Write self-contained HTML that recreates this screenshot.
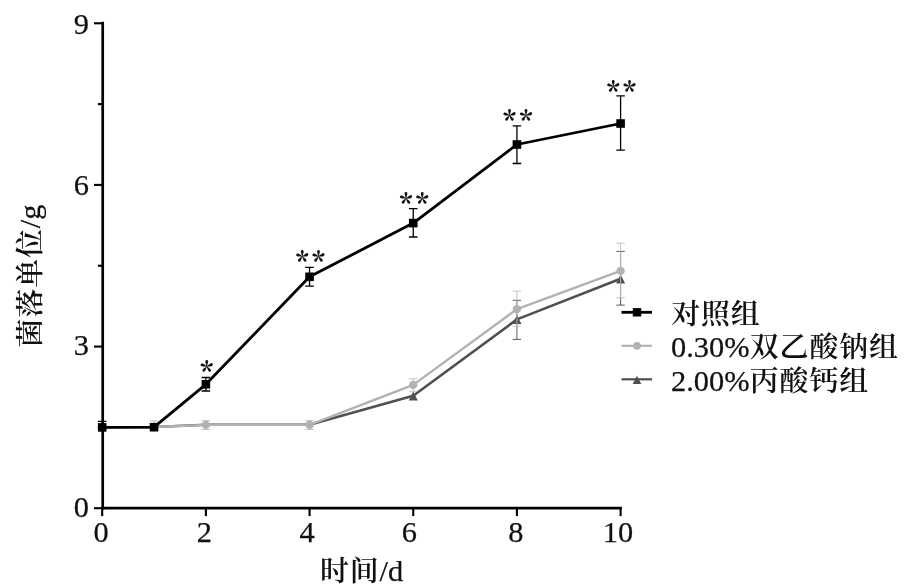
<!DOCTYPE html>
<html lang="zh-CN"><head><meta charset="utf-8"><title>菌落单位</title>
<style>html,body{margin:0;padding:0;background:#fff;}
.l{font-size:30.4px;font-weight:400;stroke:#111;stroke-width:0.25px;letter-spacing:0}
.c{font-size:28.9px;font-weight:600;letter-spacing:0.9px}
.s{font-family:"Noto Serif CJK SC",serif;font-size:26.5px;font-weight:900;letter-spacing:3.4px}
body{width:908px;height:588px;overflow:hidden;font-family:"Liberation Serif","Noto Serif CJK SC",serif;}svg{display:block;filter:blur(0.35px)}</style>
</head><body>
<svg width="908" height="588" viewBox="0 0 908 588" font-family="'Liberation Serif','Noto Serif CJK SC',serif" fill="#111">
<rect width="908" height="588" fill="#fff"/>
<g>
<path d="M516.92 300.3V339.4M512.7199999999999 300.3H521.12M512.7199999999999 339.4H521.12" stroke="#4a4a4a" stroke-width="0.9" fill="none"/>
<path d="M620.6 251.4V305.1M616.4 251.4H624.8000000000001M616.4 305.1H624.8000000000001" stroke="#4a4a4a" stroke-width="0.9" fill="none"/>
<polyline points="102.2,427.2 154.04,427.0 205.88,424.7 309.56,424.7 413.24,395.8 516.92,319.4 620.6,278.8" fill="none" stroke="#505050" stroke-width="2.6" stroke-linejoin="round"/>
<path d="M413.24 391.48L417.74 400.48H408.74Z" fill="#505050"/>
<path d="M516.92 315.08L521.42 324.08H512.42Z" fill="#505050"/>
<path d="M620.6 274.48L625.10 283.48H616.10Z" fill="#505050"/>
<path d="M154.04 420.9V427M149.84 420.9H158.23999999999998M149.84 427H158.23999999999998" stroke="#bcbcbc" stroke-width="0.9" fill="none"/>
<path d="M205.88 420.6V429.5M201.68 420.6H210.07999999999998M201.68 429.5H210.07999999999998" stroke="#bcbcbc" stroke-width="0.9" fill="none"/>
<path d="M309.56 420.6V429.5M305.36 420.6H313.76M305.36 429.5H313.76" stroke="#bcbcbc" stroke-width="0.9" fill="none"/>
<path d="M413.24 378.7V391.3M409.04 378.7H417.44M409.04 391.3H417.44" stroke="#bcbcbc" stroke-width="0.9" fill="none"/>
<path d="M516.92 291.2V326.1M512.7199999999999 291.2H521.12M512.7199999999999 326.1H521.12" stroke="#bcbcbc" stroke-width="0.9" fill="none"/>
<path d="M620.6 243.2V297.8M616.4 243.2H624.8000000000001M616.4 297.8H624.8000000000001" stroke="#bcbcbc" stroke-width="0.9" fill="none"/>
<polyline points="102.2,427.2 154.04,427.0 205.88,424.9 309.56,424.9 413.24,384.9 516.92,309.1 620.6,270.9" fill="none" stroke="#b2b2b2" stroke-width="2.4" stroke-linejoin="round"/>
<circle cx="154.04" cy="427.0" r="4.2" fill="#b2b2b2"/>
<circle cx="205.88" cy="424.9" r="4.2" fill="#b2b2b2"/>
<circle cx="309.56" cy="424.9" r="4.2" fill="#b2b2b2"/>
<circle cx="413.24" cy="384.9" r="4.2" fill="#b2b2b2"/>
<circle cx="516.92" cy="309.1" r="4.2" fill="#b2b2b2"/>
<circle cx="620.6" cy="270.9" r="4.2" fill="#b2b2b2"/>
<path d="M102.2 421.3V427.4M97.9 421.3H106.5M97.9 427.4H106.5" stroke="#000" stroke-width="1.3" fill="none"/>
<path d="M205.88 377.5V391M201.57999999999998 377.5H210.18M201.57999999999998 391H210.18" stroke="#000" stroke-width="1.3" fill="none"/>
<path d="M309.56 267.3V286.1M305.26 267.3H313.86M305.26 286.1H313.86" stroke="#000" stroke-width="1.3" fill="none"/>
<path d="M413.24 208.7V237M408.94 208.7H417.54M408.94 237H417.54" stroke="#000" stroke-width="1.3" fill="none"/>
<path d="M516.92 125.9V163.5M512.62 125.9H521.2199999999999M512.62 163.5H521.2199999999999" stroke="#000" stroke-width="1.3" fill="none"/>
<path d="M620.6 95.8V150.2M616.3000000000001 95.8H624.9M616.3000000000001 150.2H624.9" stroke="#000" stroke-width="1.3" fill="none"/>
<polyline points="102.2,427.4 154.04,427.2 205.88,384.3 309.56,276.8 413.24,223.1 516.92,144.5 620.6,123.5" fill="none" stroke="#000" stroke-width="2.8" stroke-linejoin="round"/>
<rect x="97.90" y="423.10" width="8.6" height="8.6" fill="#000"/>
<rect x="149.74" y="422.90" width="8.6" height="8.6" fill="#000"/>
<rect x="201.58" y="380.00" width="8.6" height="8.6" fill="#000"/>
<rect x="305.26" y="272.50" width="8.6" height="8.6" fill="#000"/>
<rect x="408.94" y="218.80" width="8.6" height="8.6" fill="#000"/>
<rect x="512.62" y="140.20" width="8.6" height="8.6" fill="#000"/>
<rect x="616.30" y="119.20" width="8.6" height="8.6" fill="#000"/>
</g>
<g>
<path d="M102.7 21.8V509.5" stroke="#000" stroke-width="2.7" fill="none"/>
<path d="M101.2 508.2H621.9" stroke="#000" stroke-width="2.8" fill="none"/>
<path d="M94.00 508.20H102.7" stroke="#000" stroke-width="2.1"/>
<path d="M97.90 427.38H102.7" stroke="#000" stroke-width="2.1"/>
<path d="M94.00 346.56H102.7" stroke="#000" stroke-width="2.1"/>
<path d="M97.90 265.74H102.7" stroke="#000" stroke-width="2.1"/>
<path d="M94.00 184.92H102.7" stroke="#000" stroke-width="2.1"/>
<path d="M97.90 104.10H102.7" stroke="#000" stroke-width="2.1"/>
<path d="M94.00 23.28H102.7" stroke="#000" stroke-width="2.1"/>
<path d="M102.2 508.2V516.1" stroke="#000" stroke-width="2.1"/>
<path d="M205.88 508.2V516.1" stroke="#000" stroke-width="2.1"/>
<path d="M309.56 508.2V516.1" stroke="#000" stroke-width="2.1"/>
<path d="M413.24 508.2V516.1" stroke="#000" stroke-width="2.1"/>
<path d="M516.92 508.2V516.1" stroke="#000" stroke-width="2.1"/>
<path d="M620.6 508.2V516.1" stroke="#000" stroke-width="2.1"/>
</g>
<g>
<path d="M621.5 312.3H652" stroke="#000" stroke-width="2.8"/>
<rect x="632.8" y="308.1" width="8.4" height="8.4" fill="#000"/>
<path d="M621.5 345.8H652" stroke="#b2b2b2" stroke-width="2.2"/>
<circle cx="637" cy="345.8" r="3.9" fill="#b2b2b2"/>
<path d="M621.5 379.3H652" stroke="#505050" stroke-width="2.2"/>
<path d="M637 375.7L641.3 384.1H632.7Z" fill="#505050"/>
</g>
<g>
<text class="l" x="89" y="517.30" text-anchor="end">0</text>
<text class="l" x="89" y="355.07" text-anchor="end">3</text>
<text class="l" x="89" y="194.63" text-anchor="end">6</text>
<text class="l" x="89" y="34.20" text-anchor="end">9</text>
<text class="l" x="101.20" y="542.4" text-anchor="middle">0</text>
<text class="l" x="204.28" y="542.4" text-anchor="middle">2</text>
<text class="l" x="307.16" y="542.4" text-anchor="middle">4</text>
<text class="l" x="409.44" y="542.4" text-anchor="middle">6</text>
<text class="l" x="515.92" y="542.4" text-anchor="middle">8</text>
<text class="l" x="617.90" y="542.4" text-anchor="middle">10</text>
<text x="361.6" y="580.8" text-anchor="middle"><tspan class="c">时间</tspan><tspan class="l">/d</tspan></text>
<text transform="translate(39.6 276) rotate(-90)" text-anchor="middle"><tspan class="c">菌落单位</tspan><tspan class="l">/g</tspan></text>
<text class="s" x="208.38" y="382.00" text-anchor="middle">*</text>
<text class="s" x="312.06" y="271.60" text-anchor="middle">**</text>
<text class="s" x="415.74" y="214.20" text-anchor="middle">**</text>
<text class="s" x="519.42" y="131.10" text-anchor="middle">**</text>
<text class="s" x="623.1" y="101.70" text-anchor="middle">**</text>
<text x="671.2" y="323.50"><tspan class="c">对照组</tspan></text>
<text x="671" y="357.00"><tspan class="l" style="font-size:30.4px">0.30%</tspan><tspan class="c" dx="0.3">双乙酸钠组</tspan></text>
<text x="671" y="390.50"><tspan class="l" style="font-size:30.4px">2.00%</tspan><tspan class="c" dx="0.3">丙酸钙组</tspan></text>
</g>
</svg>
</body></html>
